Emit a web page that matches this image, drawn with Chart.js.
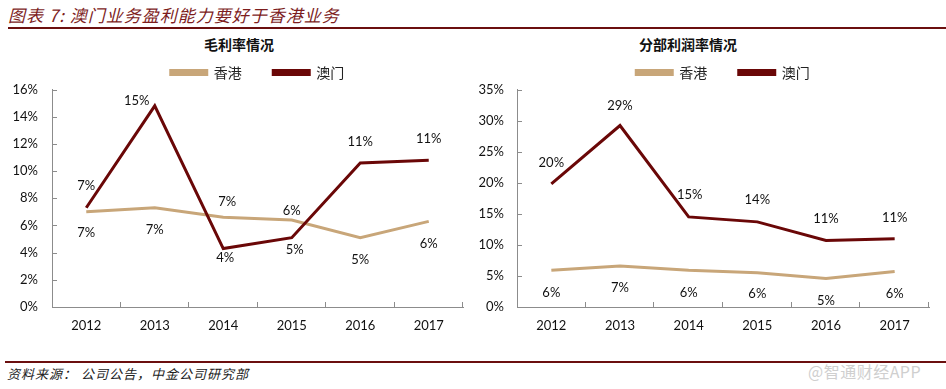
<!DOCTYPE html>
<html>
<head>
<meta charset="utf-8">
<script src="https://cdn.jsdelivr.net/npm/chart.js@4.4.1/dist/chart.umd.min.js"></script>
<style>
  body { margin: 0; background: #fff; width: 946px; height: 389px; position: relative; overflow: hidden; font-family: "Noto Sans CJK SC", sans-serif; }
  .hdr { position: absolute; left: 8px; top: 2px; font-size: 17px; letter-spacing: 1px; font-style: italic; color: #7d1d1d; white-space: nowrap; }
  .rule { position: absolute; left: 8px; right: 0; height: 2px; background: #6b0f0f; }
  .sub { position: absolute; top: 34px; font-size: 14px; font-weight: bold; color: #111; white-space: nowrap; transform: translateX(-50%); }
  .foot { position: absolute; left: 7px; top: 364px; font-size: 13px; letter-spacing: 1px; font-style: italic; color: #222; white-space: nowrap; }
  .wm { position: absolute; left: 808px; top: 359px; font-size: 16px; letter-spacing: 0.5px; color: #cfcfcf; white-space: nowrap; }
  canvas { position: absolute; }
</style>
</head>
<body>
<div class="hdr">图表 7:  澳门业务盈利能力要好于香港业务</div>
<div class="rule" style="top:27px"></div>
<div class="sub" style="left:239px">毛利率情况</div>
<div class="sub" style="left:688px">分部利润率情况</div>
<div style="position:absolute;left:0;top:55px;width:470px;height:295px"><canvas id="c1"></canvas></div>
<div style="position:absolute;left:470px;top:55px;width:476px;height:295px"><canvas id="c2"></canvas></div>
<div class="rule" style="top:361px;left:5px"></div>
<div class="foot">资料来源：  公司公告，中金公司研究部</div>
<div class="wm">@智通财经APP</div>
<script>
// data
const years = ['2012', '2013', '2014', '2015', '2016', '2017'];
const seriesNames = ['香港', '澳门'];
// 毛利率 (%)
const grossHK = [7.0, 7.3, 6.6, 6.4, 5.1, 6.3];
const grossMO = [7.3, 14.8, 4.3, 5.1, 10.6, 10.8];
// 分部利润率 (%)
const segHK = [5.9, 6.6, 5.9, 5.5, 4.6, 5.7];
const segMO = [19.8, 29.2, 14.5, 13.7, 10.7, 11.0];
// y axis tick labels
const grossTicks = ['0%', '2%', '4%', '6%', '8%', '10%', '12%', '14%', '16%'];
const segTicks = ['0%', '5%', '10%', '15%', '20%', '25%', '30%', '35%'];

const HK_COLOR = '#c8a679';
const MO_COLOR = '#6a0707';
const AXIS_COLOR = '#8c8c8c';

// inside tick marks (the chart uses ticks pointing into the plot)
const innerTicks = {
  id: 'innerTicks',
  afterDraw(chart) {
    const { ctx, chartArea: a, scales: { x, y } } = chart;
    ctx.save();
    ctx.strokeStyle = AXIS_COLOR;
    ctx.lineWidth = 1;
    ctx.beginPath();
    y.ticks.forEach(t => {
      const py = Math.round(y.getPixelForValue(t.value)) + 0.5;
      ctx.moveTo(a.left, py); ctx.lineTo(a.left + 5, py);
    });
    const n = x.ticks.length;
    for (let i = 1; i <= n; i++) {
      const px = Math.round(a.left + i * (a.right - a.left) / n) - 0.5;
      ctx.moveTo(px, a.bottom); ctx.lineTo(px, a.bottom - 5);
    }
    ctx.stroke();
    ctx.restore();
  }
};

// value labels next to each point
const pointLabels = {
  id: 'pointLabels',
  afterDatasetsDraw(chart, args, opts) {
    const { ctx } = chart;
    ctx.save();
    ctx.font = '13px Lato, "Liberation Sans", sans-serif';
    ctx.fillStyle = '#111';
    ctx.textAlign = 'center';
    ctx.textBaseline = 'middle';
    chart.data.datasets.forEach((ds, di) => {
      const meta = chart.getDatasetMeta(di);
      const offs = opts.offsets[di];
      meta.data.forEach((pt, i) => {
        const [dx, dy] = offs[i];
        ctx.fillText(Math.round(ds.data[i]) + '%', pt.x + dx, pt.y + dy);
      });
    });
    ctx.restore();
  }
};

function makeChart(id, hk, mo, tickLabels, step, yWidth, yPad, rightPad, offsets) {
  return new Chart(document.getElementById(id), {
    type: 'line',
    data: {
      labels: years,
      datasets: [
        { label: seriesNames[0], data: hk, borderColor: HK_COLOR, backgroundColor: HK_COLOR, borderWidth: 3, pointRadius: 0, tension: 0, order: 1 },
        { label: seriesNames[1], data: mo, borderColor: MO_COLOR, backgroundColor: MO_COLOR, borderWidth: 3, pointRadius: 0, tension: 0, order: 0 }
      ]
    },
    options: {
      responsive: true,
      maintainAspectRatio: false,
      animation: false,
      layout: { padding: { top: 0, right: rightPad, bottom: 0, left: 0 } },
      plugins: {
        legend: {
          position: 'top',
          fullSize: false,
          labels: {
            boxWidth: 36, boxHeight: 4, padding: 10.5,
            font: { size: 14, family: '"Noto Sans CJK SC", sans-serif' }, color: '#222',
            sort: (a, b) => a.datasetIndex - b.datasetIndex,
            // wider gap after the first entry, as in the original legend
            generateLabels: chart => Chart.defaults.plugins.legend.labels.generateLabels(chart)
              .map(l => (l.datasetIndex === 0 ? { ...l, text: l.text + '\u3000\u2002' } : l))
          }
        },
        tooltip: { enabled: false },
        pointLabels: { offsets }
      },
      scales: {
        x: {
          offset: true,
          grid: { display: false, drawTicks: false },
          border: { display: true, color: AXIS_COLOR, width: 1 },
          ticks: { padding: 11, color: '#111', font: { size: 13, family: 'Lato, "Liberation Sans", sans-serif' } },
          afterFit: s => { s.height = 43; }
        },
        y: {
          min: 0,
          max: step * (tickLabels.length - 1),
          grid: { display: false, drawTicks: false },
          border: { display: true, color: AXIS_COLOR, width: 1 },
          ticks: {
            stepSize: step, padding: yPad, color: '#111',
            font: { size: 13, family: 'Lato, "Liberation Sans", sans-serif' },
            callback: (v, i) => tickLabels[i]
          },
          afterFit: s => { s.width = yWidth; }
        }
      }
    },
    plugins: [innerTicks, pointLabels]
  });
}

makeChart('c1', grossHK, grossMO, grossTicks, 2, 52, 14, 7, [
  [[0, 21], [0, 22], [4, -15], [0, -9], [0, 22], [0, 22]],
  [[0, -22], [-18, -5], [2, 9], [3, 12], [0, -21], [0, -21]]
]);
makeChart('c2', segHK, segMO, segTicks, 5, 47, 13, 17, [
  [[0, 22], [0, 22], [0, 22], [0, 21], [0, 22], [0, 22]],
  [[0, -21], [0, -20], [1, -22], [0, -22], [0, -22], [0, -21]]
]);
</script>
</body>
</html>
